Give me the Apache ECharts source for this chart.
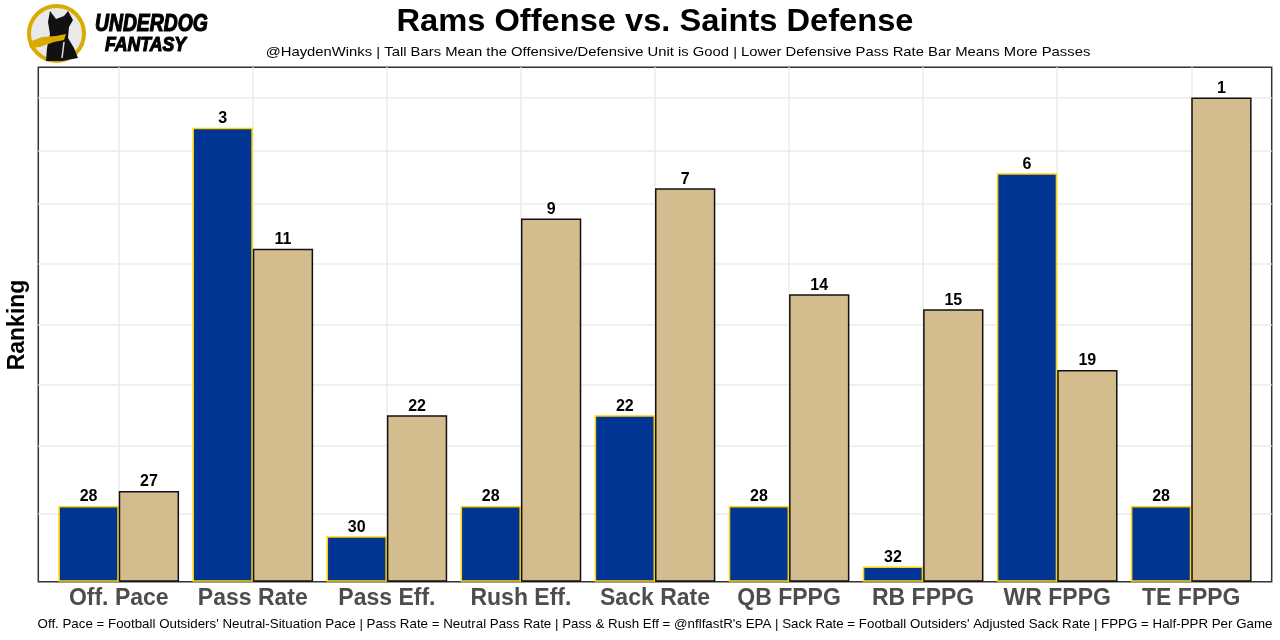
<!DOCTYPE html>
<html>
<head>
<meta charset="utf-8">
<script src="https://cdn.jsdelivr.net/npm/echarts@6/dist/echarts.min.js"></script>
<style>
html,body{margin:0;padding:0;background:#fff;}
#chart{width:1280px;height:640px;}
</style>
</head>
<body>
<div id="chart"></div>
<script>
const categories = ['Off. Pace','Pass Rate','Pass Eff.','Rush Eff.','Sack Rate','QB FPPG','RB FPPG','WR FPPG','TE FPPG'];
const ramsOffenseRank = [28, 3, 30, 28, 22, 28, 32, 6, 28];
const saintsDefenseRank = [27, 11, 22, 9, 7, 14, 15, 19, 1];
const gridLineValues = [4.5, 9, 13, 17, 21, 25, 28.5, 32];
const numTeams = 32;

const titleText = 'Rams Offense vs. Saints Defense';
const subtitleText = '@HaydenWinks | Tall Bars Mean the Offensive/Defensive Unit is Good | Lower Defensive Pass Rate Bar Means More Passes';
const captionText = "Off. Pace = Football Outsiders' Neutral-Situation Pace | Pass Rate = Neutral Pass Rate | Pass & Rush Eff = @nflfastR's EPA | Sack Rate = Football Outsiders' Adjusted Sack Rate | FPPG = Half-PPR Per Game";

const toHeight = r => numTeams + 1 - r;
const FONT = '"Liberation Sans", Arial, sans-serif';

const plotLeft = 38.3, plotRight = 1271.7, plotTop = 67.3, plotBottom = 581.7;
const plotW = plotRight - plotLeft, plotH = plotBottom - plotTop;
const unit = plotW / 9.2;
const barsLeft = plotLeft + 0.1 * unit;
const centersLeft = plotLeft + 0.6 * unit;

const chart = echarts.init(document.getElementById('chart'));
const labelStyle = {show: true, position: 'top', distance: 1, fontFamily: FONT, fontWeight: 'bold', fontSize: 16, color: '#000'};

chart.setOption({
  animation: false,
  backgroundColor: '#fff',
  grid: [
    {left: plotLeft, top: plotTop, width: plotW, height: plotH, show: true, borderColor: '#333', borderWidth: 1.5, backgroundColor: 'transparent', z: 0},
    {left: centersLeft, top: plotTop, width: unit * 8, height: plotH, show: false},
    {left: barsLeft, top: plotTop, width: unit * 9, height: plotH, show: false}
  ],
  xAxis: [
    {type: 'value', gridIndex: 0, min: 0.4, max: 9.6, show: false},
    {type: 'category', gridIndex: 1, data: categories, boundaryGap: false,
     axisLine: {show: false}, axisTick: {show: false}, axisLabel: {show: false},
     splitLine: {show: true, interval: 0, lineStyle: {color: '#ebebeb', width: 1.5}}},
    {type: 'category', gridIndex: 2, data: categories,
     axisLine: {show: false}, axisTick: {show: false},
     axisLabel: {interval: 0, margin: 5, fontFamily: FONT, fontWeight: 'bold', fontSize: 23, color: '#4d4d4d'}}
  ],
  yAxis: [
    {type: 'value', gridIndex: 0, min: 0, max: 34, show: false, splitLine: {show: false}},
    {type: 'value', gridIndex: 1, min: 0, max: 34, show: false, splitLine: {show: false}},
    {type: 'value', gridIndex: 2, min: 0, max: 34, show: false, splitLine: {show: false}}
  ],
  series: [
    {type: 'scatter', xAxisIndex: 0, yAxisIndex: 0, data: [[5, 0]], symbolSize: 0, silent: true, z: 1,
     markLine: {silent: true, symbol: 'none', animation: false,
       label: {show: false},
       lineStyle: {color: '#ebebeb', width: 1.5, type: 'solid'},
       data: gridLineValues.map(v => ({yAxis: v}))}},
    {type: 'bar', name: 'Rams Offense', xAxisIndex: 2, yAxisIndex: 2, z: 5,
     data: ramsOffenseRank.map(toHeight), barGap: '0%', barCategoryGap: '10%',
     itemStyle: {color: '#003594', borderColor: '#FFD100', borderWidth: 1.5},
     label: Object.assign({}, labelStyle, {formatter: p => ramsOffenseRank[p.dataIndex]})},
    {type: 'bar', name: 'Saints Defense', xAxisIndex: 2, yAxisIndex: 2, z: 5,
     data: saintsDefenseRank.map(toHeight), barGap: '0%', barCategoryGap: '10%',
     itemStyle: {color: '#D3BC8D', borderColor: '#111', borderWidth: 1.5},
     label: Object.assign({}, labelStyle, {formatter: p => saintsDefenseRank[p.dataIndex]})}
  ],
  graphic: [
    {type: 'text', x: 655, y: 23, scaleX: 1.07, z: 10,
     style: {text: titleText, fontFamily: FONT, fontWeight: 'bold', fontSize: 30.5, fill: '#000', align: 'center', verticalAlign: 'middle'}},
    {type: 'text', x: 678, y: 52, scaleX: 1.09, z: 10,
     style: {text: subtitleText, fontFamily: FONT, fontSize: 13.6, fill: '#000', align: 'center', verticalAlign: 'middle'}},
    {type: 'text', x: 655, y: 624, scaleX: 1.05, z: 10,
     style: {text: captionText, fontFamily: FONT, fontSize: 12.7, fill: '#000', align: 'center', verticalAlign: 'middle'}},
    {type: 'text', x: 18, y: 325, rotation: Math.PI / 2, z: 10,
     style: {text: 'Ranking', fontFamily: FONT, fontWeight: 'bold', fontSize: 23, fill: '#000', align: 'center', verticalAlign: 'middle'}},
    {type: 'group', z: 10, children: [
      {type: 'circle', shape: {cx: 56.5, cy: 33.5, r: 27.5}, style: {fill: '#e9e9e9', stroke: '#D9AA00', lineWidth: 4}},
      {type: 'polygon', shape: {points: [[50,11],[56,19],[64,16],[68,11],[73,20],[69,27],[68,38],[74,48],[78,58],[62,61],[46,61],[47,48],[50,34],[48,22]]}, style: {fill: '#111'}},
      {type: 'polygon', shape: {points: [[29,42],[42,37],[56,36],[66,34],[64,40],[54,42],[40,47],[30,48]]}, style: {fill: '#D9AA00'}},
      {type: 'line', shape: {x1: 64, y1: 42, x2: 62, y2: 58}, style: {stroke: '#ddd', lineWidth: 1.5}},
      {type: 'text', x: 95, y: 13, scaleX: 0.84, style: {text: 'UNDERDOG', fontFamily: FONT, fontWeight: 'bold', fontStyle: 'italic', fontSize: 23, fill: '#000', stroke: '#000', lineWidth: 1.2}},
      {type: 'text', x: 105, y: 35, scaleX: 0.84, style: {text: 'FANTASY', fontFamily: FONT, fontWeight: 'bold', fontStyle: 'italic', fontSize: 21, fill: '#000', stroke: '#000', lineWidth: 1.2}}
    ]}
  ]
});
</script>
</body>
</html>
